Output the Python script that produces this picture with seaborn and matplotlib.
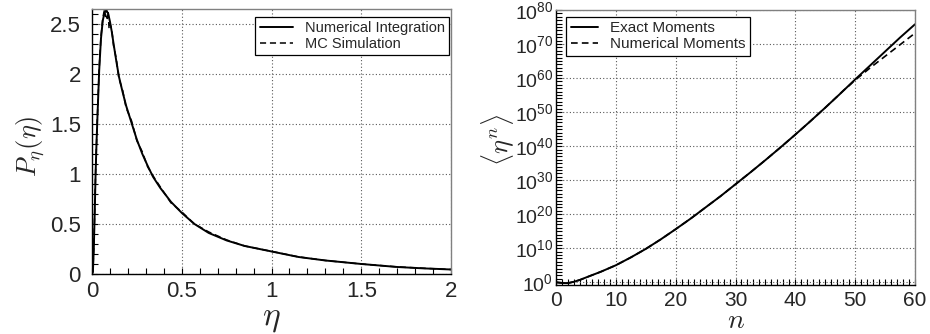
import numpy as np
import pandas as pd
import matplotlib
matplotlib.use("Agg")
import matplotlib.pyplot as plt
import matplotlib.ticker as mticker
import seaborn as sns

# ---------------- data ----------------
eta_ni = [0.0, 0.005, 0.01, 0.015, 0.02, 0.025, 0.03, 0.04, 0.05, 0.06, 0.07, 0.08,
          0.09, 0.10, 0.11, 0.12, 0.135, 0.15, 0.17, 0.19, 0.22, 0.25, 0.28, 0.31,
          0.34, 0.38, 0.44, 0.5, 0.57, 0.65, 0.75, 0.85, 1.0, 1.15, 1.3, 1.5, 1.7, 1.85, 2.0]
p_ni = [0.0, 0.02, 0.25, 0.6, 1.0, 1.3, 1.55, 2.03, 2.35, 2.53, 2.61, 2.63,
        2.6, 2.52, 2.42, 2.3, 2.13, 1.97, 1.82, 1.68, 1.51, 1.34, 1.2, 1.08,
        0.97, 0.86, 0.72, 0.61, 0.5, 0.41, 0.335, 0.28, 0.225, 0.17, 0.135, 0.10, 0.07, 0.056, 0.045]

eta_mc = [0.0, 0.005, 0.01, 0.015, 0.02, 0.03, 0.04, 0.05, 0.06, 0.065, 0.07, 0.075,
          0.08, 0.085, 0.09, 0.095, 0.1, 0.11, 0.12, 0.135, 0.15, 0.17, 0.19, 0.22,
          0.25, 0.28, 0.31, 0.34, 0.38, 0.44, 0.5, 0.57, 0.65, 0.75, 0.85, 1.0, 1.15, 1.3,
          1.5, 1.7, 1.85, 2.0]
p_mc = [0.0, 0.03, 0.27, 0.62, 1.02, 1.57, 2.05, 2.37, 2.55, 2.6, 2.64, 2.57,
        2.65, 2.55, 2.62, 2.45, 2.5, 2.44, 2.28, 2.15, 1.95, 1.84, 1.66, 1.53,
        1.33, 1.22, 1.07, 0.98, 0.87, 0.71, 0.62, 0.5, 0.42, 0.34, 0.28, 0.226, 0.171, 0.135,
        0.10, 0.071, 0.057, 0.045]

n_exact = [0, 1, 2, 3, 4, 5, 7.5, 10, 12.5, 15, 17.5, 20, 22.5, 25, 27.5, 30, 32.5,
           35, 37.5, 40, 42.5, 45, 47.5, 50, 52.5, 55, 57.5, 60]
log10_exact = [0, -0.2, -0.25, 0.15, 0.7, 1.4, 3.1, 5.0, 7.3, 9.8, 12.6, 15.6, 18.7,
               22.0, 25.3, 28.8, 32.3, 35.9, 39.6, 43.4, 47.3, 51.3, 55.4, 59.6,
               63.7, 67.8, 71.9, 75.8]

n_num = [0, 1, 2, 3, 4, 5, 7.5, 10, 12.5, 15, 17.5, 20, 22.5, 25, 27.5, 30, 32.5,
         35, 37.5, 40, 42.5, 45, 46, 47, 48, 49, 50, 52.5, 55, 57.5, 60]
log10_num = [0, -0.2, -0.25, 0.15, 0.7, 1.4, 3.1, 5.0, 7.3, 9.8, 12.6, 15.6, 18.7,
             22.0, 25.3, 28.8, 32.3, 35.9, 39.6, 43.4, 47.3, 51.3, 52.95, 54.6,
             56.3, 57.8, 59.4, 63.0, 66.4, 69.8, 73.2]

# ---------------- style ----------------
sns.set_style("ticks")
plt.rcParams["font.family"] = ["Liberation Sans", "DejaVu Sans"]
plt.rcParams["mathtext.fontset"] = "cm"

W, H = 930, 334
fig = plt.figure(figsize=(W / 100, H / 100), dpi=100)
ax1 = fig.add_axes([92 / W, 1 - 274 / H, (451 - 92) / W, (274 - 9) / H])
ax2 = fig.add_axes([556 / W, 1 - 285 / H, (915 - 556) / W, (285 - 10) / H])

df_ni = pd.DataFrame({"eta": eta_ni, "P": p_ni})
df_mc = pd.DataFrame({"eta": eta_mc, "P": p_mc})
sns.lineplot(data=df_ni, x="eta", y="P", ax=ax1, color="black", lw=1.4,
             label="Numerical Integration", errorbar=None)
sns.lineplot(data=df_mc, x="eta", y="P", ax=ax1, color="black", lw=1.1,
             linestyle=(0, (4, 2.5)), label="MC Simulation", errorbar=None)

df_ex = pd.DataFrame({"n": n_exact, "m": [10.0 ** v for v in log10_exact]})
df_nu = pd.DataFrame({"n": n_num, "m": [10.0 ** v for v in log10_num]})
sns.lineplot(data=df_ex, x="n", y="m", ax=ax2, color="black", lw=1.4,
             label="Exact Moments", errorbar=None)
sns.lineplot(data=df_nu, x="n", y="m", ax=ax2, color="black", lw=1.2,
             linestyle=(0, (4, 2.5)), label="Numerical Moments", errorbar=None)

# ---------------- left axes ----------------
ax1.set_xlim(0, 2)
ax1.set_ylim(0, 2.645)
ax1.xaxis.set_major_locator(mticker.MultipleLocator(0.5))
ax1.xaxis.set_minor_locator(mticker.MultipleLocator(0.1))
ax1.yaxis.set_major_locator(mticker.MultipleLocator(0.5))
ax1.yaxis.set_minor_locator(mticker.MultipleLocator(0.1))
ax1.xaxis.set_major_formatter(mticker.FuncFormatter(lambda v, p: f"{v:g}"))
ax1.yaxis.set_major_formatter(mticker.FuncFormatter(lambda v, p: f"{v:g}"))
ax1.set_xlabel(r"$\eta$", fontsize=24, va="center")
ax1.xaxis.set_label_coords(0.5, (274 - 318) / 265)
ax1.set_ylabel(r"$P_\eta(\eta)$", fontsize=19, va="center")
ax1.yaxis.set_label_coords((31 - 92) / 359, (274 - 147) / 265)

# ---------------- right axes ----------------
ax2.set_yscale("log")
ax2.set_xlim(0, 60)
ax2.set_ylim(10 ** -0.8, 1e80)
ax2.xaxis.set_major_locator(mticker.MultipleLocator(10))
ax2.xaxis.set_minor_locator(mticker.MultipleLocator(1))
ax2.yaxis.set_major_locator(mticker.FixedLocator([10.0 ** k for k in range(0, 81, 10)]))
ax2.yaxis.set_minor_locator(mticker.FixedLocator([10.0 ** k for k in range(0, 81)]))
ax2.yaxis.set_major_formatter(mticker.FuncFormatter(
    lambda v, p: r"$\mathregular{10^{%d}}$" % round(np.log10(v))))
ax2.yaxis.set_minor_formatter(mticker.NullFormatter())
ax2.set_xlabel(r"$n$", fontsize=20, va="center")
ax2.xaxis.set_label_coords(0.5, (285 - 321) / 275)
ax2.set_ylabel(r"$\langle\eta^n\rangle$", fontsize=19, va="center")
ax2.yaxis.set_label_coords((498 - 556) / 359, (285 - 140) / 275)

for ax in (ax1, ax2):
    ax.grid(True, which="major", linestyle=(0, (1, 2)), color="0.35", lw=0.8)
    ax.tick_params(which="both", direction="in", length=4, width=0.8, color="black")
    for s in ("left", "bottom"):
        ax.spines[s].set_color("black")
        ax.spines[s].set_linewidth(1.0)
    for s in ("top", "right"):
        ax.spines[s].set_color("0.5")
        ax.spines[s].set_linewidth(1.0)
    ax.set_facecolor("white")

ax1.tick_params(axis="both", labelsize=16)
ax1.tick_params(axis="y", pad=8)
ax1.tick_params(axis="x", pad=5)
ax2.tick_params(axis="x", labelsize=15, pad=4)
ax2.tick_params(axis="y", labelsize=14, pad=2)

leg1 = ax1.legend(loc="upper right", bbox_to_anchor=(0.995, 0.97), borderaxespad=0,
                  fontsize=10.5, frameon=True, fancybox=False, edgecolor="black",
                  framealpha=1, handlelength=2.3, borderpad=0.3, labelspacing=0.1)
leg2 = ax2.legend(loc="upper left", bbox_to_anchor=(0.028, 0.975), borderaxespad=0,
                  fontsize=11, frameon=True, fancybox=False, edgecolor="black",
                  framealpha=1, handlelength=1.8, borderpad=0.3, labelspacing=0.1)
for lg in (leg1, leg2):
    lg.get_frame().set_linewidth(0.9)

fig.savefig("out.png", dpi=100, facecolor="white")
